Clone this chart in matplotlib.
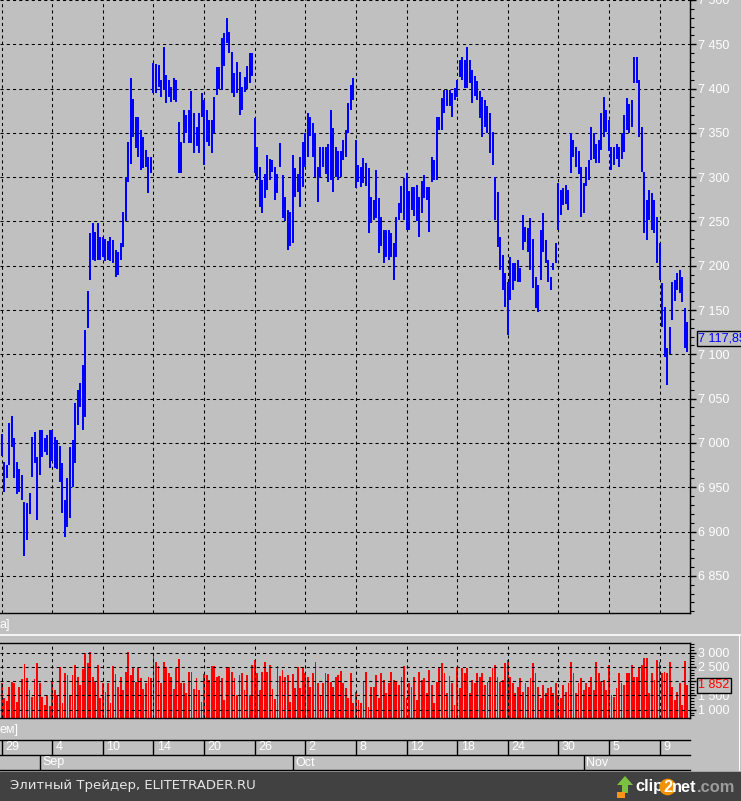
import matplotlib
matplotlib.use('Agg')
import matplotlib.pyplot as plt
from matplotlib.ticker import MultipleLocator, FuncFormatter
from matplotlib.patches import Rectangle, Polygon
from matplotlib.lines import Line2D
import numpy as np

# bars: 5 per trading day, 29 Aug -> 9 Nov
high = [7010, 6978, 6975, 7022, 7030, 7005, 6978, 6970, 6964, 6933, 6932, 6944, 7007, 7012, 6984, 7015, 7015, 7006, 7009, 7015,
        7015, 7007, 7003, 6996, 6977, 6936, 6960, 6995, 7003, 7045, 7060, 7068, 7088, 7128, 7172, 7237, 7248, 7238, 7248, 7233,
        7233, 7230, 7228, 7233, 7229, 7218, 7215, 7226, 7261, 7300, 7340, 7412, 7388, 7368, 7368, 7353, 7345, 7331, 7323, 7323,
        7429, 7428, 7427, 7410, 7447, 7415, 7410, 7402, 7412, 7410, 7362, 7340, 7376, 7370, 7376, 7397, 7372, 7357, 7372, 7395,
        7387, 7376, 7365, 7365, 7390, 7424, 7424, 7457, 7463, 7480, 7464, 7441, 7418, 7430, 7419, 7402, 7413, 7425, 7440, 7440,
        7367, 7334, 7312, 7297, 7304, 7325, 7320, 7319, 7312, 7304, 7339, 7302, 7278, 7263, 7261, 7325, 7310, 7304, 7323, 7340,
        7350, 7372, 7368, 7361, 7350, 7312, 7334, 7334, 7334, 7338, 7376, 7356, 7334, 7330, 7330, 7342, 7353, 7384, 7404, 7412,
        7342, 7314, 7312, 7322, 7316, 7310, 7278, 7274, 7308, 7276, 7255, 7240, 7240, 7240, 7237, 7226, 7255, 7271, 7290, 7299,
        7305, 7284, 7289, 7289, 7291, 7278, 7296, 7302, 7289, 7289, 7323, 7319, 7368, 7368, 7389, 7398, 7398, 7398, 7395, 7401,
        7410, 7432, 7436, 7432, 7447, 7432, 7421, 7414, 7408, 7397, 7391, 7387, 7380, 7372, 7351, 7300, 7283, 7233, 7212, 7192,
        7182, 7210, 7203, 7203, 7207, 7197, 7257, 7244, 7243, 7254, 7230, 7187, 7178, 7240, 7259, 7229, 7207, 7187, 7203, 7226,
        7293, 7286, 7288, 7291, 7286, 7350, 7342, 7334, 7330, 7312, 7293, 7312, 7319, 7357, 7350, 7338, 7342, 7372, 7391, 7376,
        7365, 7334, 7334, 7338, 7334, 7350, 7370, 7389, 7383, 7387, 7436, 7436, 7410, 7357, 7306, 7274, 7286, 7282, 7274, 7255,
        7226, 7181, 7154, 7107, 7131, 7182, 7184, 7192, 7195, 7187, 7152, 7137]
low = [6985, 6945, 6960, 6975, 6995, 6960, 6942, 6945, 6935, 6872, 6890, 6920, 6962, 6977, 6913, 6964, 6984, 6990, 6986, 6972,
       6980, 6972, 6970, 6956, 6921, 6894, 6905, 6915, 6950, 6977, 7020, 7040, 7015, 7029, 7130, 7184, 7207, 7205, 7207, 7207,
       7210, 7205, 7206, 7205, 7203, 7187, 7190, 7207, 7221, 7250, 7295, 7315, 7345, 7333, 7323, 7308, 7310, 7312, 7282, 7305,
       7395, 7395, 7402, 7390, 7398, 7384, 7390, 7385, 7387, 7385, 7305, 7305, 7339, 7350, 7339, 7339, 7327, 7335, 7327, 7368,
       7314, 7340, 7335, 7327, 7350, 7393, 7400, 7398, 7425, 7451, 7440, 7395, 7391, 7395, 7370, 7376, 7396, 7400, 7406, 7414,
       7305, 7297, 7266, 7260, 7277, 7286, 7297, 7306, 7274, 7282, 7312, 7254, 7250, 7218, 7222, 7226, 7278, 7283, 7266, 7289,
       7312, 7323, 7346, 7323, 7300, 7272, 7300, 7312, 7304, 7295, 7297, 7283, 7300, 7297, 7300, 7319, 7323, 7350, 7376, 7387,
       7288, 7295, 7289, 7293, 7290, 7237, 7248, 7252, 7254, 7214, 7222, 7203, 7210, 7206, 7210, 7184, 7210, 7252, 7260, 7252,
       7240, 7240, 7263, 7256, 7250, 7233, 7260, 7276, 7274, 7238, 7295, 7297, 7297, 7353, 7353, 7372, 7380, 7380, 7368, 7387,
       7391, 7413, 7410, 7401, 7401, 7406, 7384, 7392, 7387, 7367, 7345, 7357, 7350, 7327, 7314, 7252, 7221, 7195, 7173, 7154,
       7122, 7161, 7173, 7183, 7182, 7182, 7218, 7227, 7216, 7195, 7175, 7152, 7148, 7184, 7216, 7203, 7182, 7173, 7195, 7203,
       7240, 7257, 7269, 7270, 7263, 7305, 7323, 7312, 7304, 7255, 7260, 7290, 7297, 7319, 7321, 7316, 7316, 7331, 7345, 7351,
       7330, 7308, 7314, 7320, 7312, 7320, 7328, 7353, 7350, 7357, 7406, 7406, 7345, 7306, 7237, 7229, 7252, 7240, 7237, 7203,
       7184, 7131, 7097, 7065, 7100, 7139, 7160, 7173, 7169, 7159, 7107, 7103]
volume = [1920, 1400, 1320, 1810, 1980, 1920, 1280, 1810, 2060, 2600, 2100, 1690, 1460, 2060, 2650, 1950, 1460, 1160, 1520, 1130,
          1980, 1690, 1520, 2510, 1220, 2280, 2220, 1520, 2220, 2570, 2160, 1870, 2420, 2980, 2630, 3040, 2160, 1960, 2570, 1400,
          1950, 1630, 1920, 1220, 2530, 2250, 1810, 2160, 1690, 2330, 3040, 2220, 2510, 1980, 2510, 2100, 1710, 1920, 2160, 2100,
          2920, 2680, 2540, 1920, 2680, 2510, 2280, 2160, 1710, 2450, 2780, 1920, 1950, 1570, 2330, 2330, 1710, 2100, 1690, 1280,
          2240, 2220, 2040, 2530, 2530, 2160, 2180, 2100, 1340, 2450, 2490, 2330, 2100, 1520, 2220, 2280, 1690, 2220, 1520, 2570,
          2740, 2280, 1690, 2330, 2680, 2330, 2570, 1710, 1360, 2530, 2180, 2390, 2160, 2220, 1280, 2250, 1750, 2510, 1750, 2510,
          2280, 2160, 1810, 2280, 2680, 1920, 1520, 1920, 2280, 2250, 1980, 1810, 2160, 2220, 2360, 1920, 1750, 1400, 2300, 1220,
          1630, 1340, 1220, 1980, 2330, 1100, 1810, 1810, 2220, 1400, 2280, 2040, 1570, 1920, 2330, 2040, 1980, 1870, 2160, 2530,
          1400, 1920, 1810, 2160, 1340, 2330, 2040, 2100, 1570, 2390, 1870, 1220, 1980, 2450, 2630, 2280, 1570, 2180, 1920, 1160,
          2510, 1750, 2450, 2280, 2450, 1570, 2040, 1920, 2300, 2160, 2280, 1870, 1980, 2160, 2450, 2570, 2160, 1980, 2040, 2630,
          2740, 2160, 1920, 1570, 1810, 2100, 1630, 1920, 1810, 2100, 2630, 2280, 1810, 1400, 1870, 1570, 1750, 1810, 1570, 1920,
          1515, 1400, 1870, 1630, 1920, 2680, 2280, 1570, 1920, 2100, 1690, 1920, 1810, 2160, 1690, 2680, 2280, 1980, 2040, 1690,
          2570, 1515, 1460, 1750, 2280, 1920, 1870, 2280, 2280, 2570, 2160, 2160, 2510, 2570, 2800, 2800, 1570, 2280, 2040, 2740,
          2680, 2280, 2330, 2280, 2680, 1810, 1340, 1630, 1920, 1160, 2710, 1852]
last_close = 7117.85

day_labels = ['29', '4', '10', '14', '20', '26', '2', '8', '12', '18', '24', '30', '5', '9']
day_starts = list(range(0, 272, 20))
month_labels = ['Sep', 'Oct', 'Nov']
month_starts = [15, 115, 230]

W, H = 741, 801
BG = '#c0c0c0'
FONT = ['Liberation Sans Narrow', 'Liberation Sans']
plt.rcParams['font.family'] = FONT

fig = plt.figure(figsize=(W / 100, H / 100), dpi=100, facecolor=BG)


def px_axes(x0, y0, x1, y1):
    a = fig.add_axes([x0 / W, 1 - y1 / H, (x1 - x0) / W, (y1 - y0) / H])
    a.set_facecolor(BG)
    return a


def space_fmt(v, pos=None):
    return f'{int(round(v)):,}'.replace(',', ' ')


def style_panel(a, major, minor, hide_near=None):
    a.set_xlim(-0.67, 272.05)
    a.spines[['top', 'left']].set_visible(False)
    for s in ('right', 'bottom', 'top'):
        a.spines[s].set_color('black')
        a.spines[s].set_linewidth(1.0)
    a.yaxis.tick_right()
    a.yaxis.set_major_locator(MultipleLocator(major))
    a.yaxis.set_minor_locator(MultipleLocator(minor))

    def fmt(v, pos=None):
        # the last-value box sits on top of this label in the original
        if hide_near is not None and abs(v - hide_near) < major / 2:
            return ''
        return space_fmt(v)
    a.yaxis.set_major_formatter(FuncFormatter(fmt))
    a.tick_params(axis='y', which='major', length=4.5, width=1, color='black',
                  labelcolor='white', labelsize=9, pad=1.5)
    a.tick_params(axis='y', which='minor', length=3, width=0.8, color='black')
    a.set_xticks(day_starts)
    a.tick_params(axis='x', length=0, labelbottom=False)
    a.grid(True, which='major', color='black', linestyle=(0, (3, 3)), linewidth=0.75)


x = np.arange(len(high))

# price panel
ax = px_axes(0, 0, 690, 613)
ax.vlines(x, low, high, color='#0000ff', linewidth=1.25, antialiased=False)
ax.set_ylim(6808, 7500)
style_panel(ax, 50, 10)
ax.set_axisbelow(True)
close_txt = f'{last_close:,.2f}'.replace(',', ' ').replace('.', ',')
ax.text(1 + 8 / 690, last_close, close_txt, transform=ax.get_yaxis_transform(),
        color='#0000ff', fontsize=9, va='center', ha='left', clip_on=False, zorder=5,
        bbox=dict(boxstyle='square,pad=0.12', fc=BG, ec='black', lw=1))

# volume panel
axv = px_axes(0, 643, 690, 718)
axv.bar(x, volume, width=0.72, color='#ff0000', linewidth=0, antialiased=False)
axv.set_ylim(709, 3340)
style_panel(axv, 500, 100, hide_near=volume[-1])
axv.spines['top'].set_visible(True)
axv.set_axisbelow(False)
axv.text(1 + 8 / 690, volume[-1], space_fmt(volume[-1]), transform=axv.get_yaxis_transform(),
         color='#ff0000', fontsize=9, va='center', ha='left', clip_on=False, zorder=5,
         bbox=dict(boxstyle='square,pad=0.12', fc=BG, ec='black', lw=1))

# separator and cut-off panel titles
fig.add_artist(Line2D([0, 1], [1 - 634.5 / H] * 2, color='white', lw=1.2))
fig.add_artist(Line2D([738.5 / W] * 2, [1 - 634.5 / H, 1 - 770 / H], color='white', lw=0.8))
fig.text(0, 1 - 625 / H, 'а]', color='white', fontsize=9, va='center', ha='left')
fig.text(0, 1 - 730 / H, 'ем]', color='white', fontsize=9, va='center', ha='left')

# date strip
axd = px_axes(0, 740, 690, 770)
axd.set_xlim(-0.67, 272.05)
axd.set_ylim(0, 2)
axd.axis('off')
for yy in (0, 1, 2):
    axd.axhline(yy, color='black', lw=1, clip_on=False)
axd.vlines(day_starts, 1, 2, color='black', lw=1)
axd.vlines(month_starts, 0, 1, color='black', lw=1)
for d, lab in zip(day_starts, day_labels):
    axd.annotate(lab, xy=(d, 1.5), xytext=(2.5, 0), textcoords='offset points',
                 color='white', fontsize=9, va='center', ha='left')
for m, lab in zip(month_starts, month_labels):
    axd.annotate(lab, xy=(m, 0.5), xytext=(2, 0), textcoords='offset points',
                 color='white', fontsize=9, va='center', ha='left')

# bottom bar with captions
fig.add_artist(Rectangle((0, 0), 1, 29 / H, transform=fig.transFigure, color='#414141'))
fig.text(10 / W, 1 - 786 / H, 'Элитный Трейдер, ELITETRADER.RU', color='#e6e6e6',
         fontsize=9.5, va='center', ha='left', family='DejaVu Sans')

arrow = [(625, 776), (617, 785), (622, 785), (622, 793), (628, 793), (628, 785), (633, 785)]
fig.add_artist(Polygon([(px / W, 1 - py / H) for px, py in arrow], closed=True,
                       transform=fig.transFigure, fc='#7cc242', ec='none'))
fig.add_artist(Rectangle((617 / W, 1 - 798 / H), 8 / W, 6 / H, transform=fig.transFigure,
                         fc='#f7941d', ec='none'))

# logo pieces, sized so "clip2net.com" fills x 635..735
logo = [('clip', 'white'), ('2', 'white'), ('net', 'white'), ('.com', '#9c9c9c')]
fig.canvas.draw()
rend = fig.canvas.get_renderer()
probe = fig.text(0, 0, ''.join(p for p, _ in logo), fontsize=13, fontweight='bold')
size = 13 * 100 / probe.get_window_extent(rend).width
probe.remove()
xpos = 635
for piece, col in logo:
    kw = {}
    if piece == '2':
        kw['bbox'] = dict(boxstyle='circle,pad=0.05', fc='#f39200', ec='none')
    t = fig.text(xpos / W, 1 - 787 / H, piece, color=col, fontsize=size, fontweight='bold',
                 va='center', ha='left', **kw)
    xpos += t.get_window_extent(rend).width

fig.savefig('out.png', dpi=100, facecolor=BG)
